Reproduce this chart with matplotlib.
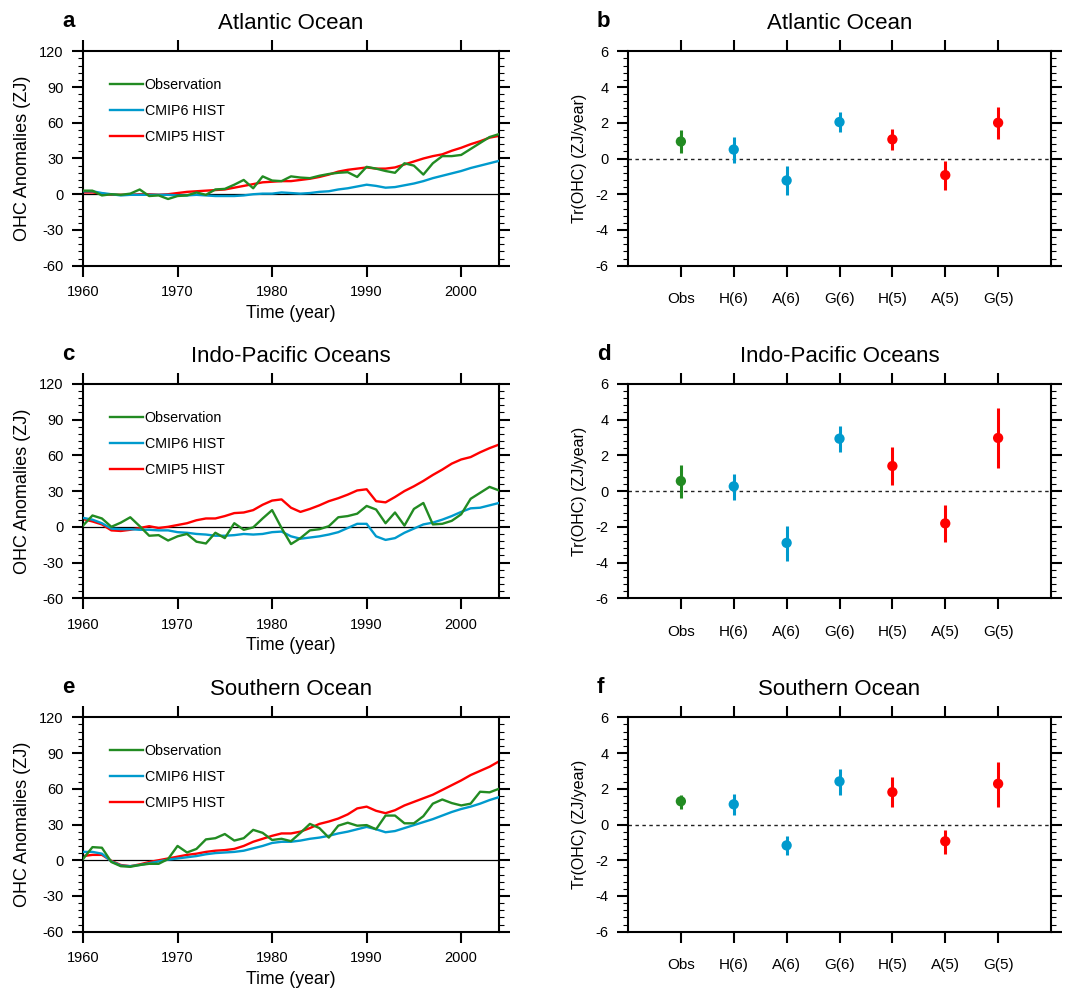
import numpy as np
import matplotlib
matplotlib.use('Agg')
import matplotlib.pyplot as plt
from matplotlib.ticker import MultipleLocator

plt.rcParams['font.family'] = ['Liberation Sans', 'DejaVu Sans']
plt.rcParams['axes.linewidth'] = 1.5
plt.rcParams['axes.unicode_minus'] = False

years = np.arange(1960, 2005)

# ---- Atlantic ----
atl_obs = [3, 3, -1, 0, -0.5, 0.5, 4, -1.5, -1, -4, -1.5, -1, 1.5, -0.5, 4, 4.5, 8, 12, 5, 15,
           11.5, 11, 15, 14, 13.5, 15.5, 17, 18, 18.5, 14.5, 23, 21.5, 19.5, 18, 26, 24, 16.5, 26, 32, 32,
           33, 38, 43, 48, 50.5]
atl_c6 = [2.5, 2.5, 1, 0, -1, -0.5, -0.5, -0.5, -0.5, -0.5, -1, -1, -0.5, -1, -1.5, -1.5, -1.5, -1, 0, 0.5,
          0.5, 1.5, 1, 0.5, 1, 2, 2.5, 4, 5, 6.5, 8, 7, 5.5, 6, 7.5, 9, 11, 13.5, 15.5, 17.5,
          19.5, 22, 24, 26, 28]
atl_c5 = [1.5, 1.5, 0.5, -0.5, -0.5, -0.5, 0, 0, -0.5, 0, 1, 2, 2.5, 3, 3.5, 4, 5.5, 7, 8.5, 10,
          10.5, 11, 11, 12, 13, 14.5, 16.5, 19, 20.5, 21.5, 22.5, 21.5, 21.5, 22.5, 25, 27.5, 30, 32, 33.5, 36.5,
          39, 42, 44.5, 47.5, 49]

# ---- Indo-Pacific ----
ip_obs = [1, 9.5, 7, 0, 3.5, 8, 0.5, -7.5, -7, -11.5, -8, -6, -12.5, -14, -5, -9.5, 3, -2.5, -0.5, 7,
          14, -1, -14.5, -9.5, -3, -2, 0.5, 8, 9, 11, 17.5, 14.5, 3, 12, 1, 15, 20, 2, 2.5, 5,
          10.5, 23.5, 28.5, 33.5, 30.5]
ip_c6 = [7.5, 6, 3, -1.5, -2, -2, -2.5, -2.5, -3, -3, -4.5, -5, -6, -6.5, -7.5, -7.5, -7, -6, -6.5, -6,
         -4.5, -4, -8, -10, -9, -8, -6.5, -4.5, -1, 2.5, 2.5, -8, -11, -9.5, -5, -1.5, 2, 3.5, 6, 9,
         12.5, 15.5, 16, 18, 20]
ip_c5 = [6.5, 4.5, 2, -3, -3.5, -2.5, -1, 0.5, -1, 0, 1.5, 3, 5.5, 7, 7, 9, 11.5, 12, 14, 18.5,
         22, 23, 16, 12.5, 15, 18, 21.5, 24, 27, 30.5, 31.5, 21.5, 20.5, 25, 30, 34, 38.5, 43.5, 48, 53,
         56.5, 58.5, 62.5, 66, 69]

# ---- Southern ----
so_obs = [1, 11, 10.5, -1.5, -5, -5.5, -4, -3, -3, 1, 12, 6.5, 9.5, 17.5, 18.5, 22, 16.5, 18.5, 25.5, 23,
          17, 18, 16, 23, 30.5, 27, 19, 29, 31.5, 29, 29.5, 26, 37.5, 37.5, 31, 31, 37, 47.5, 51, 48,
          46, 47.5, 57.5, 57, 60]
so_c6 = [7, 7, 5.5, -1, -4.5, -5, -4, -2.5, -1, 0.5, 1.5, 2.5, 3.5, 5, 6, 6.5, 7, 8, 10, 12,
         14.5, 15.5, 15.5, 16.5, 18, 19, 20.5, 22.5, 24, 26, 28, 26, 23.5, 24.5, 27, 29.5, 32, 34.5, 37.5, 40.5,
         43, 45, 47.5, 50.5, 53]
so_c5 = [3.5, 4.5, 4.5, -0.5, -4, -5, -3.5, -1.5, 0, 1.5, 3, 4.5, 5.5, 7, 8, 8.5, 9.5, 12, 15.5, 18,
         20.5, 22.5, 22.5, 24, 27, 30.5, 32.5, 35, 38.5, 43.5, 45, 41.5, 39.5, 42, 46, 49, 52, 55, 59, 63,
         67, 71.5, 75, 78.5, 83]

# ---- trends (ZJ/year): mean, lower, upper ----
cats = ['Obs', 'H(6)', 'A(6)', 'G(6)', 'H(5)', 'A(5)', 'G(5)']
atl_tr = [0.95, 0.5, -1.23, 2.04, 1.07, -0.93, 2.0]
atl_lo = [0.32, -0.24, -2.06, 1.5, 0.45, -1.78, 1.1]
atl_hi = [1.6, 1.21, -0.41, 2.58, 1.66, -0.15, 2.9]
ip_tr = [0.56, 0.26, -2.9, 2.93, 1.4, -1.81, 2.97]
ip_lo = [-0.37, -0.49, -3.89, 2.19, 0.32, -2.84, 1.29]
ip_hi = [1.44, 0.93, -1.93, 3.64, 2.49, -0.79, 4.65]
so_tr = [1.3, 1.13, -1.17, 2.41, 1.81, -0.94, 2.28]
so_lo = [0.87, 0.52, -1.69, 1.67, 0.96, -1.63, 1.0]
so_hi = [1.67, 1.7, -0.65, 3.13, 2.65, -0.28, 3.52]

green = '#228B22'
blue = '#009ACD'
red = '#FF0000'
cat_colors = [green, blue, blue, blue, red, red, red]

W, H = 1071, 994
fig = plt.figure(figsize=(W / 100, H / 100), dpi=100)


def rect(x0, x1, y0, y1):
    return [x0 / W, 1 - y1 / H, (x1 - x0) / W, (y1 - y0) / H]


def style_ticks(ax):
    ax.tick_params(which='major', direction='out', length=8, width=1.5, labelsize=10.5,
                   top=True, right=True, pad=6)
    ax.tick_params(which='minor', direction='out', length=3.5, width=0.8,
                   top=False, bottom=False, right=True, left=True)


def ts_panel(ax, obs, c6, c5, title):
    ax.axhline(0, color='black', lw=0.9, zorder=1)
    l5, = ax.plot(years, c5, color=red, lw=1.7, zorder=2)
    l6, = ax.plot(years, c6, color=blue, lw=1.7, zorder=3)
    lo, = ax.plot(years, obs, color=green, lw=1.7, zorder=4)
    ax.set_xlim(1960, 2004)
    ax.set_ylim(-60, 120)
    ax.set_xticks(np.arange(1960, 2001, 10))
    ax.set_yticks(np.arange(-60, 121, 30))
    ax.yaxis.set_minor_locator(MultipleLocator(6))
    style_ticks(ax)
    ax.set_xlabel('Time (year)', fontsize=12.7, labelpad=4)
    ax.set_ylabel('OHC Anomalies (ZJ)', fontsize=13, labelpad=6)
    ax.set_title(title, fontsize=16, pad=16)
    ax.legend([lo, l6, l5], ['Observation', 'CMIP6 HIST', 'CMIP5 HIST'],
              loc='upper left', bbox_to_anchor=(0.035, 0.935), frameon=False,
              fontsize=10.3, handlelength=2.3, handletextpad=0.1, labelspacing=0.85)


def tr_panel(ax, tr, lo, hi, title):
    x = np.arange(1, len(cats) + 1)
    ax.axhline(0, color='#222222', lw=1.0, ls=(0, (2.5, 2.5)), zorder=1)
    ax.vlines(x, lo, hi, colors=cat_colors, lw=2.2, zorder=2)
    ax.scatter(x, tr, s=55, c=cat_colors, zorder=3, linewidths=0)
    ax.set_xlim(0, 8)
    ax.set_ylim(-6, 6)
    ax.set_xticks(x)
    ax.set_xticklabels(cats)
    ax.set_yticks(np.arange(-6, 7, 2))
    ax.yaxis.set_minor_locator(MultipleLocator(0.4))
    style_ticks(ax)
    ax.tick_params(axis='x', pad=11, labelsize=11)
    ax.set_ylabel('Tr(OHC) (ZJ/year)', fontsize=11.5, labelpad=6)
    ax.set_title(title, fontsize=16, pad=16)


rows = [(51.3, 265.7), (383.8, 598.3), (717.3, 931.7)]
data_ts = [(atl_obs, atl_c6, atl_c5, 'Atlantic Ocean'),
           (ip_obs, ip_c6, ip_c5, 'Indo-Pacific Oceans'),
           (so_obs, so_c6, so_c5, 'Southern Ocean')]
data_tr = [(atl_tr, atl_lo, atl_hi, 'Atlantic Ocean'),
           (ip_tr, ip_lo, ip_hi, 'Indo-Pacific Oceans'),
           (so_tr, so_lo, so_hi, 'Southern Ocean')]
letters = [('a', 'b'), ('c', 'd'), ('e', 'f')]

for i, (y0, y1) in enumerate(rows):
    axl = fig.add_axes(rect(83, 499, y0, y1))
    obs, c6, c5, t = data_ts[i]
    ts_panel(axl, obs, c6, c5, t)
    axr = fig.add_axes(rect(628, 1051, y0, y1))
    tr, lo, hi, t = data_tr[i]
    tr_panel(axr, tr, lo, hi, t)
    fig.text(62 / W, 1 - (y0 - 24) / H, letters[i][0], fontsize=16, fontweight='bold',
             ha='left', va='baseline')
    fig.text(597 / W, 1 - (y0 - 24) / H, letters[i][1], fontsize=16, fontweight='bold',
             ha='left', va='baseline')

plt.savefig('out.png', dpi=100)
